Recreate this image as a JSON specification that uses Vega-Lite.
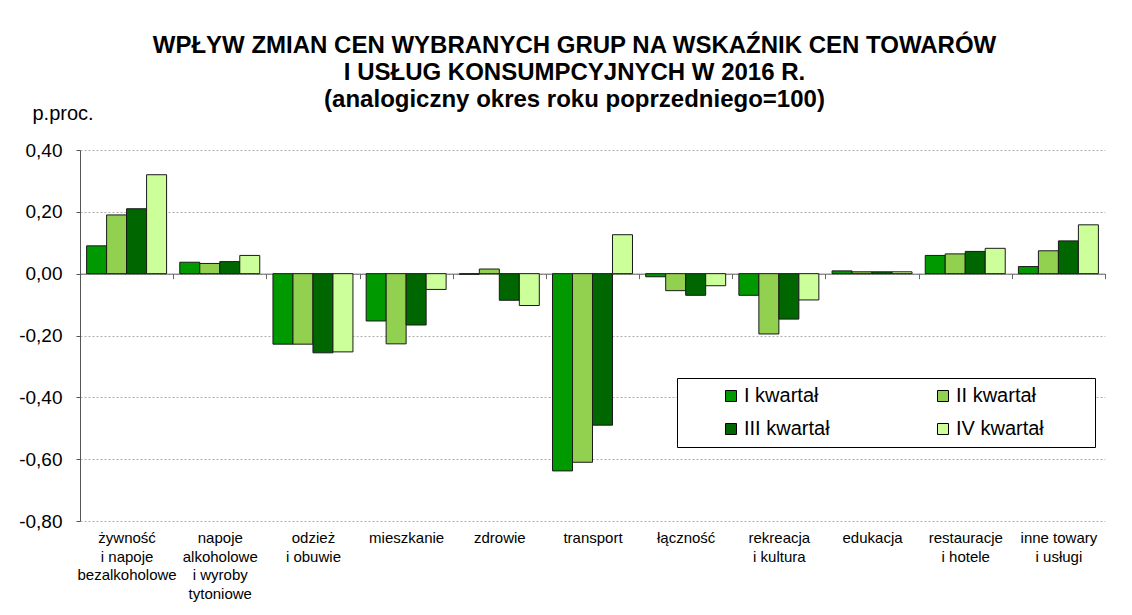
{
  "$schema": "https://vega.github.io/schema/vega-lite/v6.json",
  "autosize": "none",
  "width": 1025,
  "height": 371,
  "padding": {"left": 80, "top": 150, "right": 27, "bottom": 94},
  "background": "white",
  "title": {
    "text": ["WPŁYW ZMIAN CEN WYBRANYCH GRUP NA WSKAŹNIK CEN TOWARÓW", "I USŁUG KONSUMPCYJNYCH W 2016 R.", "(analogiczny okres roku poprzedniego=100)"],
    "fontSize": 24,
    "font": "Liberation Sans",
    "fontWeight": "bold",
    "color": "black",
    "lineHeight": 27,
    "anchor": "middle",
    "frame": "group",
    "dx": -18,
    "offset": -9
  },
  "data": {
    "values": [
      {"kat": "żywność|i napoje|bezalkoholowe", "kw": "I kwartał", "v": 0.09},
      {"kat": "żywność|i napoje|bezalkoholowe", "kw": "II kwartał", "v": 0.19},
      {"kat": "żywność|i napoje|bezalkoholowe", "kw": "III kwartał", "v": 0.21},
      {"kat": "żywność|i napoje|bezalkoholowe", "kw": "IV kwartał", "v": 0.32},
      {"kat": "napoje|alkoholowe|i wyroby|tytoniowe", "kw": "I kwartał", "v": 0.037},
      {"kat": "napoje|alkoholowe|i wyroby|tytoniowe", "kw": "II kwartał", "v": 0.033},
      {"kat": "napoje|alkoholowe|i wyroby|tytoniowe", "kw": "III kwartał", "v": 0.039},
      {"kat": "napoje|alkoholowe|i wyroby|tytoniowe", "kw": "IV kwartał", "v": 0.059},
      {"kat": "odzież|i obuwie", "kw": "I kwartał", "v": -0.228},
      {"kat": "odzież|i obuwie", "kw": "II kwartał", "v": -0.228},
      {"kat": "odzież|i obuwie", "kw": "III kwartał", "v": -0.256},
      {"kat": "odzież|i obuwie", "kw": "IV kwartał", "v": -0.253},
      {"kat": "mieszkanie", "kw": "I kwartał", "v": -0.153},
      {"kat": "mieszkanie", "kw": "II kwartał", "v": -0.227},
      {"kat": "mieszkanie", "kw": "III kwartał", "v": -0.166},
      {"kat": "mieszkanie", "kw": "IV kwartał", "v": -0.051},
      {"kat": "zdrowie", "kw": "I kwartał", "v": -0.002},
      {"kat": "zdrowie", "kw": "II kwartał", "v": 0.015},
      {"kat": "zdrowie", "kw": "III kwartał", "v": -0.086},
      {"kat": "zdrowie", "kw": "IV kwartał", "v": -0.103},
      {"kat": "transport", "kw": "I kwartał", "v": -0.638},
      {"kat": "transport", "kw": "II kwartał", "v": -0.61},
      {"kat": "transport", "kw": "III kwartał", "v": -0.49},
      {"kat": "transport", "kw": "IV kwartał", "v": 0.126},
      {"kat": "łączność", "kw": "I kwartał", "v": -0.01},
      {"kat": "łączność", "kw": "II kwartał", "v": -0.055},
      {"kat": "łączność", "kw": "III kwartał", "v": -0.07},
      {"kat": "łączność", "kw": "IV kwartał", "v": -0.039},
      {"kat": "rekreacja|i kultura", "kw": "I kwartał", "v": -0.07},
      {"kat": "rekreacja|i kultura", "kw": "II kwartał", "v": -0.195},
      {"kat": "rekreacja|i kultura", "kw": "III kwartał", "v": -0.147},
      {"kat": "rekreacja|i kultura", "kw": "IV kwartał", "v": -0.085},
      {"kat": "edukacja", "kw": "I kwartał", "v": 0.009},
      {"kat": "edukacja", "kw": "II kwartał", "v": 0.006},
      {"kat": "edukacja", "kw": "III kwartał", "v": 0.006},
      {"kat": "edukacja", "kw": "IV kwartał", "v": 0.006},
      {"kat": "restauracje|i hotele", "kw": "I kwartał", "v": 0.059},
      {"kat": "restauracje|i hotele", "kw": "II kwartał", "v": 0.064},
      {"kat": "restauracje|i hotele", "kw": "III kwartał", "v": 0.072},
      {"kat": "restauracje|i hotele", "kw": "IV kwartał", "v": 0.082},
      {"kat": "inne towary|i usługi", "kw": "I kwartał", "v": 0.023},
      {"kat": "inne towary|i usługi", "kw": "II kwartał", "v": 0.074},
      {"kat": "inne towary|i usługi", "kw": "III kwartał", "v": 0.106},
      {"kat": "inne towary|i usługi", "kw": "IV kwartał", "v": 0.158}
    ]
  },
  "mark": {"type": "bar", "stroke": "#1a1a1a", "strokeWidth": 1},
  "encoding": {
    "x": {
      "field": "kat",
      "type": "nominal",
      "sort": null,
      "scale": {"paddingInner": 0, "paddingOuter": 0},
      "axis": {
        "title": null,
        "orient": "bottom",
        "offset": -247.33,
        "domainColor": "#666666",
        "tickColor": "#666666",
        "tickSize": 5,
        "tickBand": "extent",
        "labelExpr": "split(datum.label, '|')",
        "labelFontSize": 15,
        "labelFont": "Liberation Sans",
        "labelColor": "black",
        "labelLineHeight": 18.5,
        "labelPadding": 252,
        "labelAngle": 0,
        "labelLimit": 0,
        "labelOverlap": false,
        "labelBound": false
      }
    },
    "xOffset": {
      "field": "kw",
      "type": "nominal",
      "scale": {"paddingInner": 0, "paddingOuter": 0.33}
    },
    "y": {
      "field": "v",
      "type": "quantitative",
      "scale": {"domain": [-0.8, 0.4], "nice": false, "zero": false},
      "axis": {
        "title": "p.proc.",
        "titleAngle": 0,
        "titleAlign": "left",
        "titleBaseline": "middle",
        "titleX": -48,
        "titleY": -37,
        "titleFontSize": 20,
        "titleFontWeight": "normal",
        "titleFont": "Liberation Sans",
        "titleColor": "black",
        "values": [-0.8, -0.6, -0.4, -0.2, 0, 0.2, 0.4],
        "labelExpr": "(datum.value < 0 ? '-' : '') + replace(format(abs(datum.value), '.2f'), '.', ',')",
        "labelFontSize": 19,
        "labelFont": "Liberation Sans",
        "labelColor": "black",
        "labelPadding": 14,
        "tickSize": 4,
        "tickColor": "#555555",
        "domainColor": "#555555",
        "grid": true,
        "gridColor": "#b0b0b0",
        "gridDash": [2, 2],
        "gridWidth": 1
      }
    },
    "color": {
      "field": "kw",
      "type": "nominal",
      "scale": {
        "domain": ["I kwartał", "II kwartał", "III kwartał", "IV kwartał"],
        "range": ["#009900", "#92d050", "#006600", "#ccff99"]
      },
      "legend": {
        "orient": "none",
        "legendX": 597,
        "legendY": 228,
        "direction": "horizontal",
        "columns": 2,
        "title": "\u00a0",
        "titleOrient": "right",
        "titlePadding": 43,
        "titleFontSize": 12,
        "strokeColor": "#000000",
        "fillColor": "white",
        "padding": 8,
        "symbolType": "square",
        "symbolSize": 121,
        "symbolStrokeColor": "#000000",
        "symbolStrokeWidth": 1,
        "symbolOffset": 36,
        "labelFontSize": 20,
        "labelFont": "Liberation Sans",
        "labelColor": "black",
        "labelOffset": 3,
        "rowPadding": 13,
        "columnPadding": 67
      }
    }
  },
  "config": {"view": {"stroke": null}}
}
